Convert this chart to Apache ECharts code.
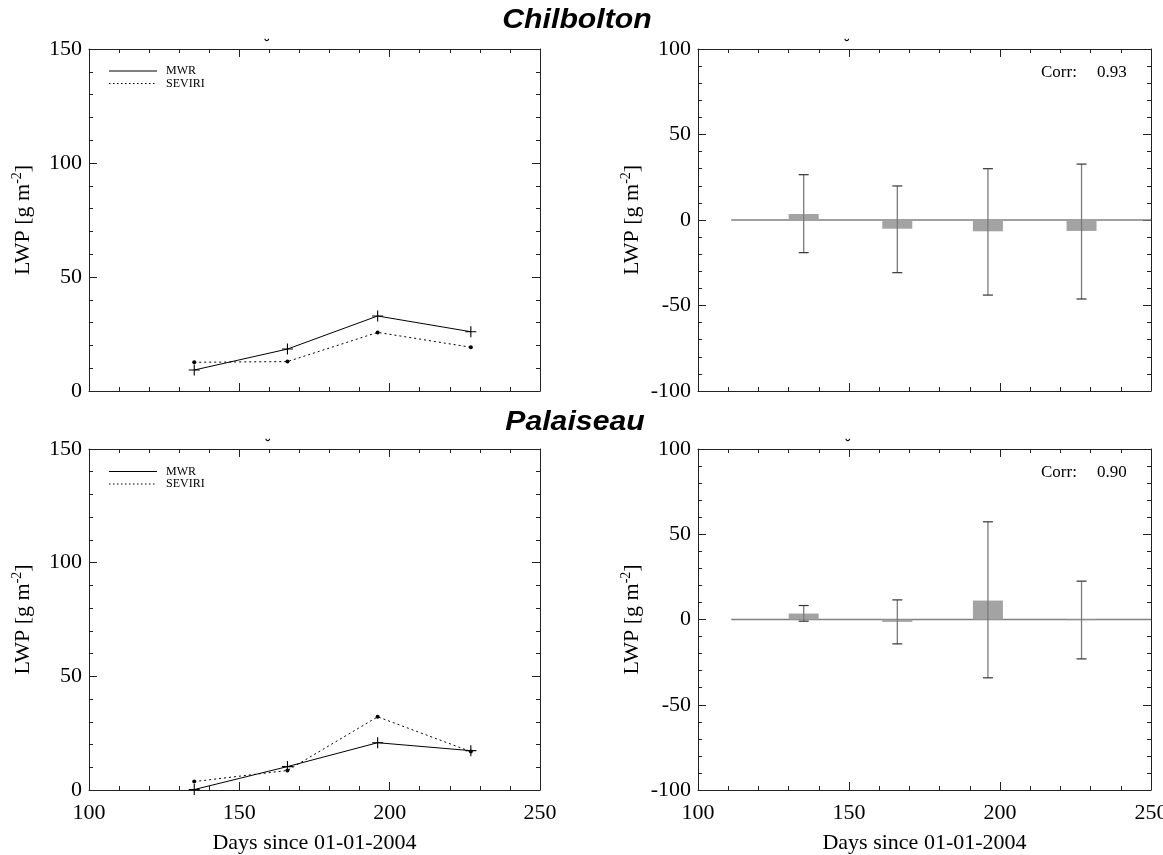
<!DOCTYPE html>
<html>
<head>
<meta charset="utf-8">
<script src="https://cdn.jsdelivr.net/npm/echarts@6/dist/echarts.min.js"></script>
<style>html,body{margin:0;padding:0;background:#fff}#c{width:1163px;height:855px}</style>
</head>
<body>
<div id="c"></div>
<script>
// ---- data ----
const days = [135, 166, 196, 227];
const chilMWR = [9.2, 18.4, 32.9, 26.0];
const chilSEV = [12.6, 12.9, 25.7, 19.2];
const chilBias = [3.5, -5.1, -6.6, -6.4];
const chilErrLow = [-19.1, -30.8, -43.9, -46.2];
const chilErrHigh = [26.5, 19.9, 30.0, 32.7];
const chilCorr = '0.93';
const palMWR = [0.2, 10.3, 20.8, 17.3];
const palSEV = [3.7, 8.6, 32.2, 16.9];
const palBias = [3.5, -1.4, 11.1, -0.4];
const palErrLow = [-1.0, -14.3, -34.2, -23.1];
const palErrHigh = [8.2, 11.5, 57.3, 22.5];
const palCorr = '0.90';
const zeroLineDays = [111, 250];
const sites = ['Chilbolton', 'Palaiseau'];
const xTitle = 'Days since 01-01-2004';

// ---- layout ----
const SERIF = '"Liberation Serif","Times New Roman",serif';
const SANS = '"Liberation Sans",Arial,sans-serif';
const grids = [
  {left: 89, top: 49, width: 451, height: 342},
  {left: 698, top: 49, width: 453, height: 342},
  {left: 89, top: 449, width: 451, height: 341},
  {left: 698, top: 449, width: 453, height: 341}
].map(g => Object.assign(g, {containLabel: false, outerBoundsMode: 'none'}));
const AX = '#222';
function xAx(g, pos, showLabel) {
  return {
    type: 'value', gridIndex: g, position: pos, min: 100, max: 250, interval: 50,
    axisLine: {show: true, onZero: false, lineStyle: {color: AX, width: 1}},
    axisTick: {show: true, inside: true, length: 8, lineStyle: {color: AX}},
    minorTick: {show: true, splitNumber: 5, length: 4, lineStyle: {color: AX}},
    splitLine: {show: false},
    axisLabel: {show: showLabel, fontFamily: SERIF, fontSize: 22, color: '#000', margin: 12},
    name: showLabel ? xTitle : '', nameLocation: 'middle', nameGap: 42,
    nameTextStyle: {fontFamily: SERIF, fontSize: 22, color: '#000'}
  };
}
function yAx(g, pos, showLabel, min, max) {
  return {
    type: 'value', gridIndex: g, position: pos, min: min, max: max, interval: 50,
    axisLine: {show: true, onZero: false, lineStyle: {color: AX, width: 1}},
    axisTick: {show: true, inside: true, length: 8, lineStyle: {color: AX}},
    minorTick: {show: true, splitNumber: 5, length: 4, lineStyle: {color: AX}},
    splitLine: {show: false},
    axisLabel: {show: showLabel, fontFamily: SERIF, fontSize: 22, color: '#000', margin: 7},
    name: showLabel ? '{a|LWP [g m}{s|-2}{a|]}' : '', nameLocation: 'middle', nameGap: 53,
    nameTextStyle: {
      color: '#000',
      rich: {
        a: {fontFamily: SERIF, fontSize: 22, color: '#000'},
        s: {fontFamily: SERIF, fontSize: 14, color: '#000', padding: [0, 0, 12, 0]}
      }
    }
  };
}
const xAxes = [], yAxes = [];
for (let g = 0; g < 4; g++) {
  xAxes.push(xAx(g, 'bottom', g >= 2));
  xAxes.push(xAx(g, 'top', false));
  const left = (g % 2 === 0);
  yAxes.push(yAx(g, 'left', true, left ? 0 : -100, left ? 150 : 100));
  yAxes.push(yAx(g, 'right', false, left ? 0 : -100, left ? 150 : 100));
}

const PLUS = 'path://M-5,-0.5L5,-0.5L5,0.5L-5,0.5Z M-0.5,-5L0.5,-5L0.5,5L-0.5,5Z';
function pairs(xs, ys) { return xs.map((x, i) => [x, ys[i]]); }

function lineSeries(g, mwr, sev) {
  return [
    {type: 'line', name: 'MWR', xAxisIndex: 2 * g, yAxisIndex: 2 * g, data: pairs(days, mwr),
     symbol: PLUS, symbolSize: 11, itemStyle: {color: '#000'},
     lineStyle: {color: '#000', width: 1}, z: 3},
    {type: 'line', name: 'SEVIRI', xAxisIndex: 2 * g, yAxisIndex: 2 * g, data: pairs(days, sev),
     symbol: 'circle', symbolSize: 4, itemStyle: {color: '#000'},
     lineStyle: {color: '#000', width: 1, type: [2, 3]}, z: 3}
  ];
}
function errRender(params, api) {
  const x = api.value(0), lo = api.value(1), hi = api.value(2);
  const a = api.coord([x, lo]), b = api.coord([x, hi]);
  const hw = 5;
  return {type: 'group', children: [
    {type: 'line', shape: {x1: a[0], y1: a[1], x2: b[0], y2: b[1]}, style: {stroke: '#7a7a7a', lineWidth: 1.3}},
    {type: 'line', shape: {x1: a[0] - hw, y1: a[1], x2: a[0] + hw, y2: a[1]}, style: {stroke: '#333', lineWidth: 1.2}},
    {type: 'line', shape: {x1: b[0] - hw, y1: b[1], x2: b[0] + hw, y2: b[1]}, style: {stroke: '#333', lineWidth: 1.2}}
  ]};
}
function biasSeries(g, bias, lo, hi) {
  return [
    {type: 'line', xAxisIndex: 2 * g, yAxisIndex: 2 * g, data: zeroLineDays.map(d => [d, 0]),
     symbol: 'none', lineStyle: {color: '#808080', width: 1.5}, z: 1},
    {type: 'bar', xAxisIndex: 2 * g, yAxisIndex: 2 * g, data: pairs(days, bias),
     barWidth: 30, itemStyle: {color: '#a3a3a3'}, z: 2},
    {type: 'custom', xAxisIndex: 2 * g, yAxisIndex: 2 * g,
     data: days.map((d, i) => [d, lo[i], hi[i]]), encode: {x: 0, y: [1, 2]},
     renderItem: errRender, z: 4}
  ];
}

const graphics = [];
function addLegend(y0) {
  graphics.push({type: 'line', shape: {x1: 109, y1: y0, x2: 157, y2: y0}, style: {stroke: '#000', lineWidth: 1}});
  graphics.push({type: 'line', shape: {x1: 109, y1: y0 + 12.5, x2: 157, y2: y0 + 12.5}, style: {stroke: '#000', lineWidth: 1, lineDash: [1.5, 2.5]}});
  graphics.push({type: 'text', x: 166, y: y0, style: {text: 'MWR', font: '12px ' + SERIF, fill: '#000', verticalAlign: 'middle'}});
  graphics.push({type: 'text', x: 166, y: y0 + 12.5, style: {text: 'SEVIRI', font: '12px ' + SERIF, fill: '#000', verticalAlign: 'middle'}});
}
addLegend(71);
addLegend(471.5);
function addCorr(y, val) {
  graphics.push({type: 'text', x: 1041, y: y, style: {text: 'Corr:', font: '17px ' + SERIF, fill: '#000', verticalAlign: 'middle'}});
  graphics.push({type: 'text', x: 1097, y: y, style: {text: val, font: '17px ' + SERIF, fill: '#000', verticalAlign: 'middle'}});
}
addCorr(73, chilCorr);
addCorr(473, palCorr);
graphics.push({type: 'text', x: 577, y: 21, scaleX: 1.12, style: {text: sites[0], font: 'italic bold 27px ' + SANS, fill: '#000', align: 'center', verticalAlign: 'middle'}});
graphics.push({type: 'text', x: 575, y: 423, scaleX: 1.12, style: {text: sites[1], font: 'italic bold 27px ' + SANS, fill: '#000', align: 'center', verticalAlign: 'middle'}});
[[267, 46], [847, 46], [268, 446], [848, 446]].forEach(p => {
  graphics.push({type: 'text', x: p[0], y: p[1], style: {text: '˘', font: 'bold 14px ' + SANS, fill: '#000', align: 'center', verticalAlign: 'middle'}});
});

const chart = echarts.init(document.getElementById('c'), null, {renderer: 'canvas'});
chart.setOption({
  animation: false,
  backgroundColor: '#fff',
  grid: grids,
  xAxis: xAxes,
  yAxis: yAxes,
  series: [].concat(
    lineSeries(0, chilMWR, chilSEV),
    biasSeries(1, chilBias, chilErrLow, chilErrHigh),
    lineSeries(2, palMWR, palSEV),
    biasSeries(3, palBias, palErrLow, palErrHigh)
  ),
  graphic: graphics
});
</script>
</body>
</html>
